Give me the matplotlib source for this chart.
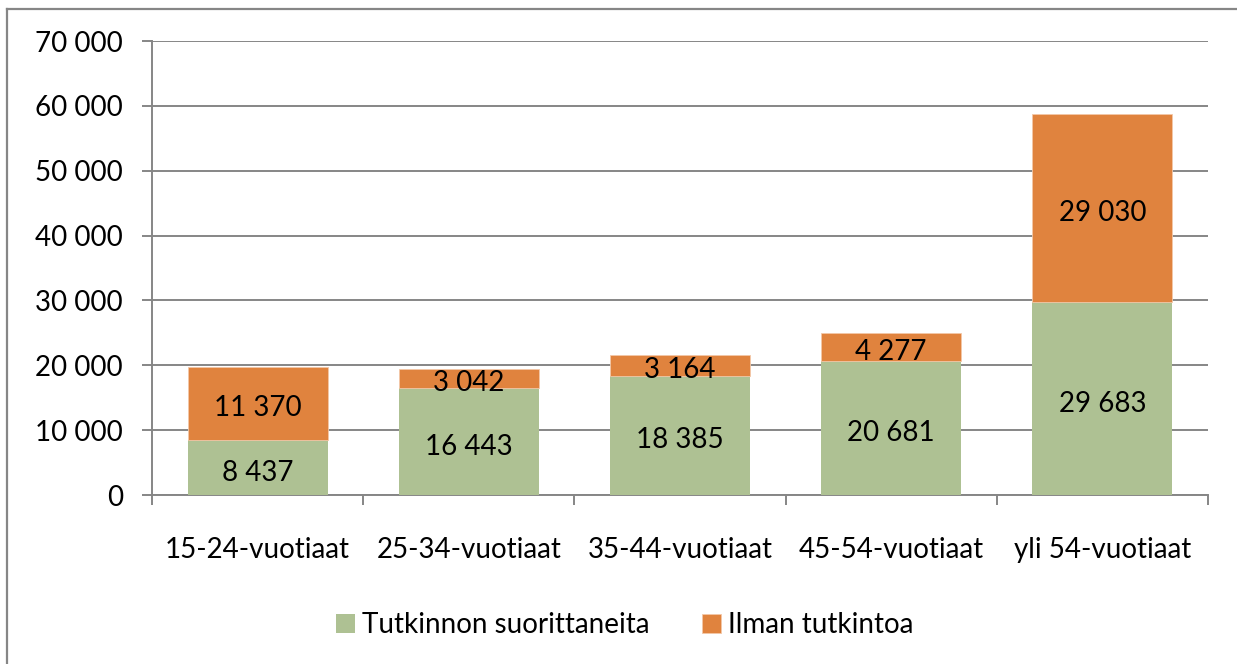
import matplotlib.pyplot as plt
from matplotlib.lines import Line2D
from matplotlib.transforms import offset_copy
import numpy as np

categories = ["15-24-vuotiaat", "25-34-vuotiaat", "35-44-vuotiaat", "45-54-vuotiaat", "yli 54-vuotiaat"]
tutkinto = [8437, 16443, 18385, 20681, 29683]
ilman = [11370, 3042, 3164, 4277, 29030]
series_names = ["Tutkinnon suorittaneita", "Ilman tutkintoa"]
yticks = list(range(0, 70001, 10000))

green = "#AEC193"
orange = "#E0833E"
grid = "#868686"
fs = 20

plt.rcParams['font.family'] = ['Lato', 'DejaVu Sans']

def fmt(v):
    return f"{v:,}".replace(",", " ")

fig = plt.figure(figsize=(12.37, 6.64), dpi=100)
ax = fig.add_axes([152/1237, 1 - 495/664, (1208 - 152)/1237, (495 - 41)/664])

x = np.arange(len(categories))
w = 0.663
b1 = ax.bar(x, tutkinto, w, color=green, label=series_names[0], zorder=3)
b2 = ax.bar(x, ilman, w, bottom=tutkinto, color=orange, label=series_names[1],
            zorder=3, edgecolor="#F3C8A8", linewidth=0.6)

# labels sit a little low in the original
lab_tr = offset_copy(ax.transData, fig=fig, x=0, y=-3.5, units="points")
for bars in (b1, b2):
    for r in bars:
        ax.text(r.get_x() + r.get_width()/2, r.get_y() + r.get_height()/2,
                fmt(int(r.get_height())), ha="center", va="center",
                fontsize=fs, color="black", zorder=4, transform=lab_tr)

ax.set_xlim(-0.5, len(categories) - 0.5)
ax.set_ylim(0, 70000)
ax.set_yticks(yticks)
ax.set_yticklabels([fmt(v) for v in yticks], fontsize=fs)
for y in yticks:
    ax.axhline(y, color=grid, lw=1.4, zorder=1)

ax.set_xticks(x)
ax.set_xticklabels(categories, fontsize=fs)
ax.set_xticks(np.arange(-0.5, len(categories)), minor=True)
ax.tick_params(axis="x", which="major", length=0, pad=30)
ax.tick_params(axis="x", which="minor", length=7, width=1.4, color=grid)
ax.tick_params(axis="y", length=7, width=1.4, color=grid, pad=14)

for s in ("top", "right"):
    ax.spines[s].set_visible(False)
for s in ("left", "bottom"):
    ax.spines[s].set_color(grid)
    ax.spines[s].set_linewidth(1.4)

# outer chart border
fig.add_artist(Line2D([7/1237, 7/1237], [0, 1 - 9/664], color=grid, lw=1.6, transform=fig.transFigure))
fig.add_artist(Line2D([7/1237, 1], [1 - 9/664, 1 - 9/664], color=grid, lw=1.6, transform=fig.transFigure))

fig.legend(handles=[b1, b2], loc="center", bbox_to_anchor=(625/1237, 1 - 625/664),
           ncol=2, frameon=False, fontsize=fs, handlelength=0.68, handleheight=0.68,
           columnspacing=1.9, handletextpad=0.25)

fig.savefig("out.png", dpi=100)
